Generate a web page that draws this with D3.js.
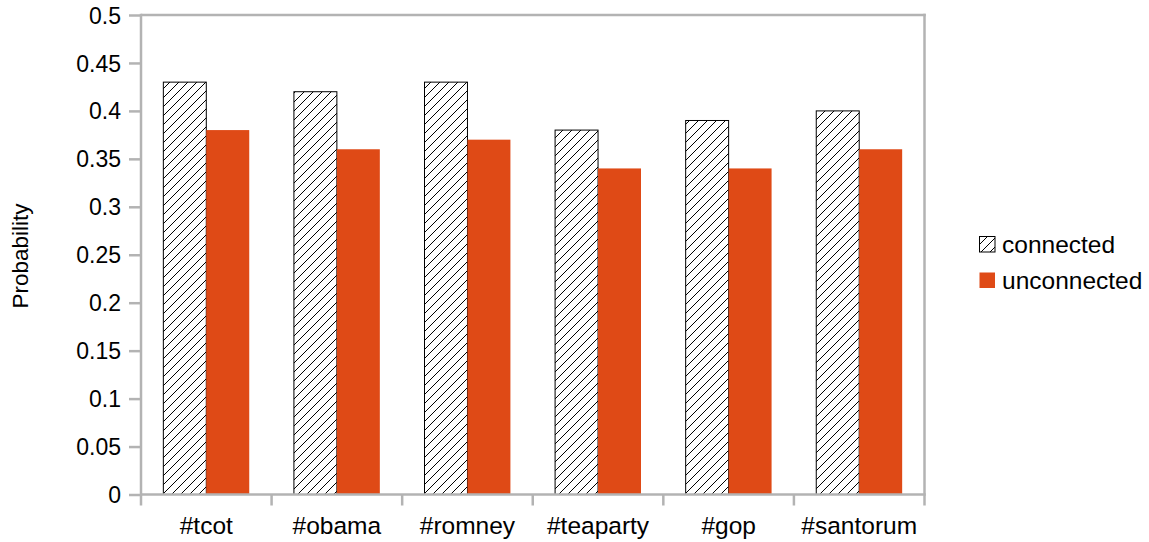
<!DOCTYPE html>
<html>
<head>
<meta charset="utf-8">
<script src="https://cdn.jsdelivr.net/npm/d3@7"></script>
<style>
body{margin:0;background:#fff;}
text{font-family:"Liberation Sans",Arial,sans-serif;fill:#000;}
</style>
</head>
<body>
<svg id="chart" width="1149" height="542"></svg>
<script>
const categories = ["#tcot","#obama","#romney","#teaparty","#gop","#santorum"];
const seriesNames = ["connected","unconnected"];
const connected = [0.43,0.42,0.43,0.38,0.39,0.40];
const unconnected = [0.38,0.36,0.37,0.34,0.34,0.36];
const yTicks = [0,0.05,0.1,0.15,0.2,0.25,0.3,0.35,0.4,0.45,0.5];
const yTitle = "Probability";

const svg = d3.select("#chart");
const L=141, R=924.5, T=15, B=494.5;
const gray="#b3b3b3", orange="#df4a16";
const fsY=23, fsX=24.5;

const defs = svg.append("defs");
const pat = defs.append("pattern").attr("id","hatch").attr("patternUnits","userSpaceOnUse")
  .attr("width",9).attr("height",9);
pat.append("rect").attr("width",9).attr("height",9).attr("fill","#fff");
pat.append("path").attr("d","M-1,10 L10,-1 M-1,1 L1,-1 M8,10 L10,8")
  .attr("stroke","#000").attr("stroke-width",1);

const y = d3.scaleLinear().domain([0,0.5]).range([B,T]);
const x0 = d3.scaleBand().domain(categories).range([L,R]);
const x1 = d3.scaleBand().domain(seriesNames).range([0,x0.bandwidth()]).paddingOuter(0.52);

// bars
const data = categories.map((c,i)=>({c, v:[connected[i],unconnected[i]]}));
const g = svg.append("g");
data.forEach(d=>{
  seriesNames.forEach((s,j)=>{
    g.append("rect")
      .attr("x",x0(d.c)+x1(s))
      .attr("y",y(d.v[j]))
      .attr("width",x1.bandwidth())
      .attr("height",B-y(d.v[j]))
      .attr("fill", j===0?"url(#hatch)":orange)
      .attr("stroke", j===0?"#000":"none")
      .attr("stroke-width",1);
  });
});

// y axis
const yAxis = d3.axisLeft(y).tickValues(yTicks).tickSize(12).tickPadding(8)
  .tickFormat(d=>String(+d.toFixed(2)));
const ya = svg.append("g").attr("transform",`translate(${L},0)`).call(yAxis);
ya.select(".domain").remove();
ya.selectAll(".tick line").attr("stroke",gray).attr("stroke-width",2.5);
ya.selectAll(".tick text").style("font-size",fsY+"px").attr("dy","0.35em");

// frame
svg.append("line").attr("x1",L).attr("x2",L).attr("y1",T-1.25).attr("y2",B+11).attr("stroke",gray).attr("stroke-width",2.5);
svg.append("line").attr("x1",R).attr("x2",R).attr("y1",T-1.25).attr("y2",B+11).attr("stroke",gray).attr("stroke-width",2.5);
svg.append("line").attr("x1",L).attr("x2",R+1.25).attr("y1",T).attr("y2",T).attr("stroke",gray).attr("stroke-width",2.5);
svg.append("line").attr("x1",L).attr("x2",R+1.25).attr("y1",B).attr("y2",B).attr("stroke",gray).attr("stroke-width",2.5);

// x category separators
categories.slice(1).forEach(c=>{
  svg.append("line").attr("x1",x0(c)).attr("x2",x0(c)).attr("y1",B).attr("y2",B+11)
    .attr("stroke",gray).attr("stroke-width",2.5);
});
// x labels
const xa = svg.append("g").attr("transform",`translate(0,${B})`)
  .call(d3.axisBottom(x0).tickSize(0).tickPadding(22));
xa.select(".domain").remove();
xa.selectAll(".tick text").style("font-size",fsX+"px");

// y title
svg.append("text").attr("transform","translate(28,256) rotate(-90)")
  .attr("text-anchor","middle").style("font-size","22.5px").text(yTitle);

// legend
const lg = svg.append("g");
seriesNames.forEach((s,j)=>{
  const yy = 236 + j*36;
  lg.append("rect").attr("x",979.5).attr("y",yy+0.5).attr("width",15.5).attr("height",15.5)
    .attr("fill", j===0?"url(#hatch)":orange)
    .attr("stroke", j===0?"#000":"none").attr("stroke-width",1);
  lg.append("text").attr("x",1002).attr("y",yy+8).attr("dy","0.35em")
    .style("font-size",fsX+"px").text(s);
});
</script>
</body>
</html>
